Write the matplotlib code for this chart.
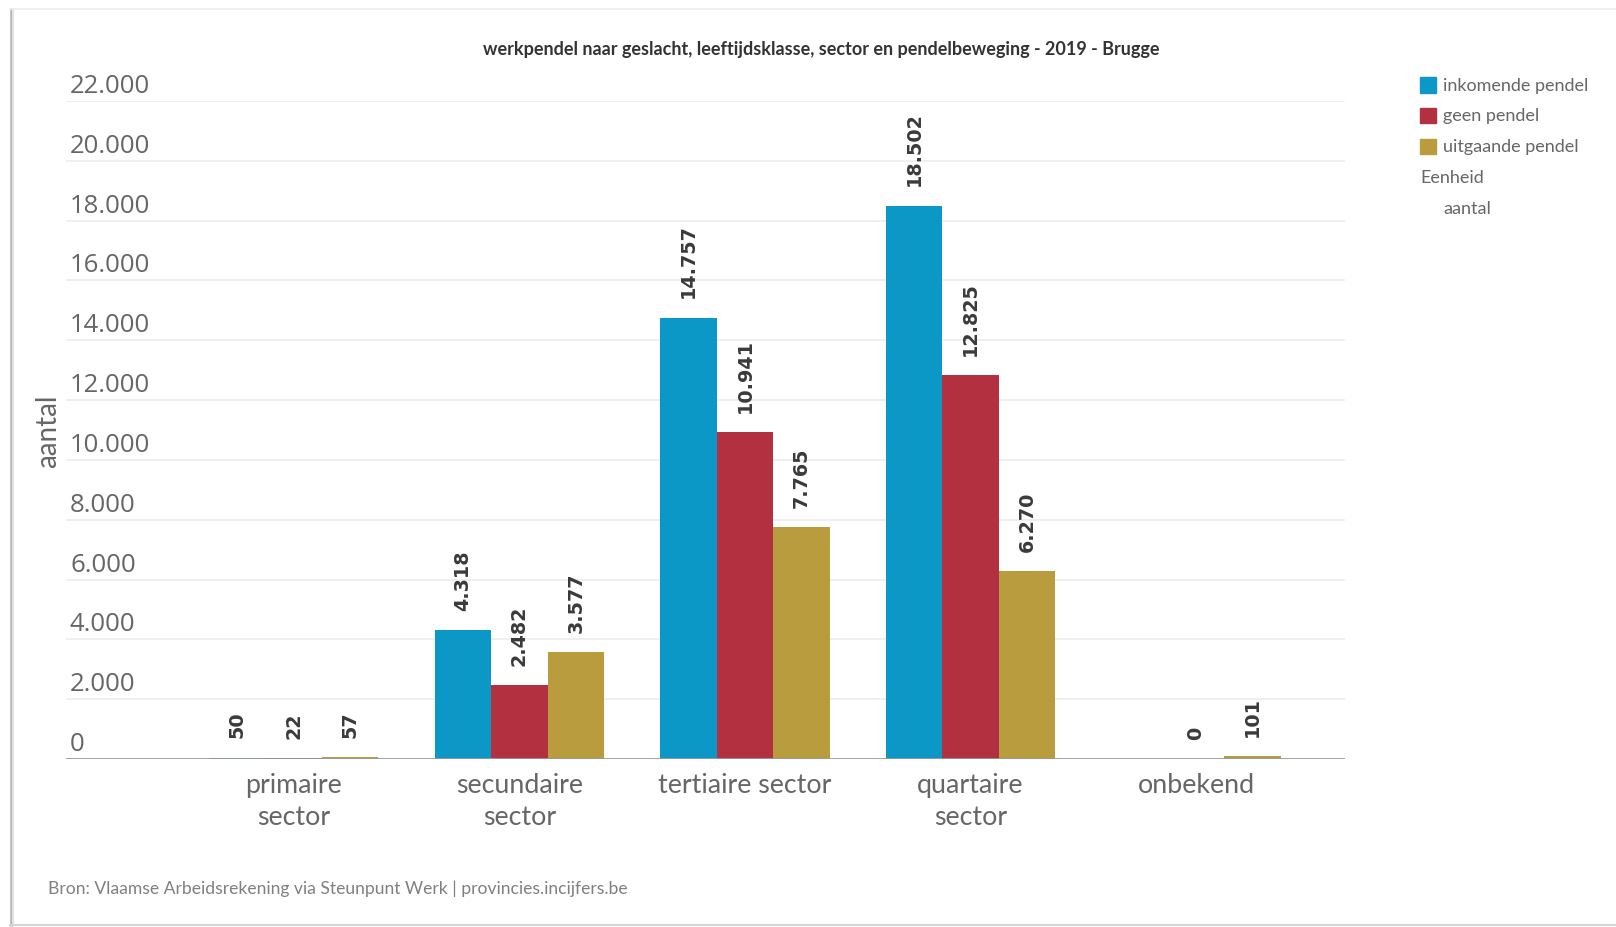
import matplotlib
matplotlib.use("Agg")
import matplotlib.pyplot as plt
from matplotlib.lines import Line2D
from matplotlib.patches import Rectangle
from matplotlib.transforms import offset_copy, blended_transform_factory
import numpy as np

categories = ["primaire\nsector", "secundaire\nsector", "tertiaire sector", "quartaire\nsector", "onbekend"]
series_names = ["inkomende pendel", "geen pendel", "uitgaande pendel"]
inkomende = [50, 4318, 14757, 18502, None]
geen = [22, 2482, 10941, 12825, 0]
uitgaande = [57, 3577, 7765, 6270, 101]
colors = ["#0c98c6", "#b2303f", "#b89c3e"]
yticks = list(range(0, 22001, 2000))

title = "werkpendel naar geslacht, leeftijdsklasse, sector en pendelbeweging - 2019 - Brugge"
source = "Bron: Vlaamse Arbeidsrekening via Steunpunt Werk | provincies.incijfers.be"

W, H = 1616, 928
fig = plt.figure(figsize=(W / 100, H / 100), dpi=100)
fig.patch.set_facecolor("white")

def fx(px):
    return px / W

def fy(py):
    return 1 - py / H

# card border
fig.add_artist(Line2D([fx(10.5), fx(10.5)], [fy(10), fy(926)], color="#b5b5b5", lw=1.8))
fig.add_artist(Line2D([fx(13), fx(13)], [fy(10), fy(926)], color="#e2e2e2", lw=1.5))
fig.add_artist(Line2D([fx(10), fx(1616)], [fy(10), fy(10)], color="#ececec", lw=1.2))
fig.add_artist(Line2D([fx(10), fx(1616)], [fy(926), fy(926)], color="#d5d5d5", lw=1.5))

ax_l, ax_r, ax_t, ax_b = 66, 1345, 102, 760
ax = fig.add_axes([fx(ax_l), fy(ax_b), fx(ax_r - ax_l), (ax_b - ax_t) / H])
ax.set_facecolor("none")
ax.set_ylim(0, 22000)
ax.set_xlim(-1.01, 4.66)
for s in ax.spines.values():
    s.set_visible(False)
ax.tick_params(left=False, bottom=False, labelleft=False, labelbottom=False)

for yv in yticks[1:]:
    ax.axhline(yv, color="#ececec", lw=1.2, zorder=0)
ax.axhline(0, color="#9a9a9a", lw=2.0, zorder=3)

ytr = offset_copy(ax.get_yaxis_transform(), fig=fig, x=0, y=3, units="dots")
for yv in yticks:
    lab = f"{yv:,}".replace(",", ".")
    ax.text(4 / (ax_r - ax_l), yv, lab, transform=ytr, ha="left", va="bottom",
            fontsize=18.5, family="Open Sans", color="#666666")

x = np.arange(len(categories))
bw = 0.25
all_series = [inkomende, geen, uitgaande]
for i, (vals, c) in enumerate(zip(all_series, colors)):
    xs = x + (i - 1) * bw
    for xi, v in zip(xs, vals):
        if v is None:
            continue
        ax.bar(xi, v, width=bw, color=c, zorder=2, linewidth=0)
        ax.annotate(f"{v:,}".replace(",", "."), (xi, v), xytext=(0, 14.5),
                    textcoords="offset points", rotation=90, ha="center", va="bottom",
                    fontsize=13.8, fontweight="bold", family="DejaVu Sans", color="#3a3a3a")

xtr = blended_transform_factory(ax.transData, fig.transFigure)
for xi, cat in zip(x, categories):
    ax.text(xi, fy(773), cat, transform=xtr, ha="center", va="top", fontsize=19.3,
            family="Lato", color="#666666", linespacing=1.33)

fig.text(fx(821), fy(49), title, ha="center", va="center", fontsize=13,
         fontweight="bold", family="Lato", color="#333333")

fig.text(fx(48), fy(431), "aantal", rotation=90, ha="center", va="center",
         fontsize=20, family="Lato", color="#666666")

fig.text(fx(48), fy(889), source, ha="left", va="center", fontsize=12.6,
         family="Lato", color="#808080")

# legend
leg_y = [86, 116, 147]
for yy, name, c in zip(leg_y, series_names, colors):
    fig.add_artist(Rectangle((fx(1420), fy(yy + 8)), fx(15.5), 15.5 / H, color=c,
                             transform=fig.transFigure))
    fig.text(fx(1443), fy(yy), name, ha="left", va="center", fontsize=13,
             family="Lato", color="#666666")
fig.text(fx(1420), fy(178), "Eenheid", ha="left", va="center", fontsize=13,
         family="Lato", color="#666666")
fig.text(fx(1443), fy(209), "aantal", ha="left", va="center", fontsize=13,
         family="Lato", color="#666666")

fig.savefig("out.png", dpi=100, facecolor="white")
